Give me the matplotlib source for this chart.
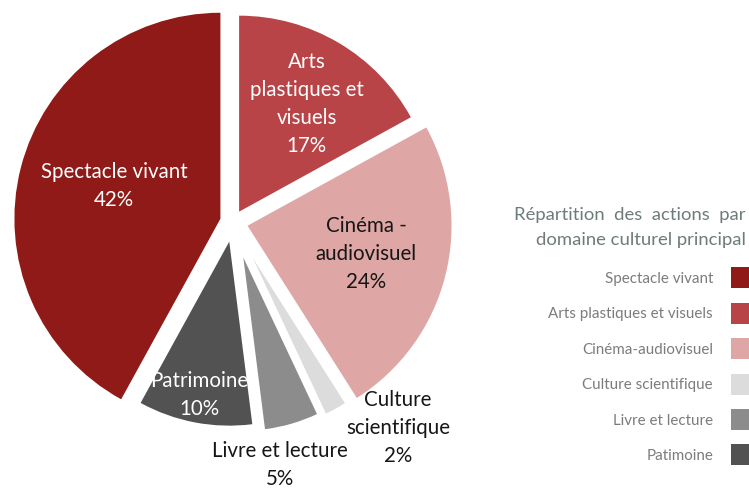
import numpy as np
import matplotlib
matplotlib.use("Agg")
import matplotlib.pyplot as plt

# ---- data ----
slice_names = ["Arts\nplastiques et\nvisuels", "Cinéma -\naudiovisuel", "Culture\nscientifique",
               "Livre et lecture", "Patrimoine", "Spectacle vivant"]
slice_values = [17, 24, 2, 5, 10, 42]
slice_colors = ["#b94448", "#dea6a4", "#dcdcdc", "#8c8c8c", "#525252", "#8f1a17"]
label_colors = ["white", "#161616", "#161616", "#161616", "white", "white"]

legend_labels = ["Spectacle vivant", "Arts plastiques et visuels", "Cinéma-audiovisuel",
                 "Culture scientifique", "Livre et lecture", "Patimoine"]
legend_colors = ["#8f1a17", "#b94448", "#dea6a4", "#dcdcdc", "#8c8c8c", "#525252"]
legend_title_1 = "Répartition  des  actions  par"
legend_title_2 = "domaine culturel principal"

# ---- layout ----
W, H = 749, 490
plt.rcParams['font.family'] = ['Lato', 'DejaVu Sans']
fig = plt.figure(figsize=(W / 100, H / 100), dpi=100)
ax = fig.add_axes([0, 0, 1, 1])

cx, cy, R = 233, 268, 200
explode_px = [12, 15, 41, 37, 20, 13]
radius_px = [196, 204, 172, 173, 184, 206]
wedges, _ = ax.pie(slice_values, colors=slice_colors, startangle=90, counterclock=False,
                   radius=R, center=(cx, cy), explode=explode_px,
                   frame=True, wedgeprops=dict(linewidth=0))
for w, r in zip(wedges, radius_px):
    w.set_radius(r)
ax.set_xlim(0, W)
ax.set_ylim(0, H)
ax.set_aspect('equal')
ax.axis('off')

# label placement (layout): distance from centre in px, angle tweak in degrees
label_r = [139, 137, 264, 248, 176, 124]
label_dtheta = [-1.5, 0.9, 9.9, -5.2, -0.2, -2.4]
total = sum(slice_values)
for w, name, v, col, rr, dt in zip(wedges, slice_names, slice_values, label_colors,
                                   label_r, label_dtheta):
    mid = np.deg2rad((w.theta1 + w.theta2) / 2 + dt)
    x = cx + rr * np.cos(mid)
    y = cy + rr * np.sin(mid)
    ax.text(x, y, f"{name}\n{round(100 * v / total)}%", ha='center', va='center',
            color=col, fontsize=14.8, linespacing=1.5)

# legend
ax.text(746, H - 215, legend_title_1, ha='right', va='center', color="#6e7b7b",
        fontsize=13.3)
ax.text(746, H - 240, legend_title_2, ha='right', va='center', color="#6e7b7b",
        fontsize=13.3)
leg_y0, leg_dy = H - 278, 35.4
for i, (lab, col) in enumerate(zip(legend_labels, legend_colors)):
    y = leg_y0 - i * leg_dy
    ax.add_patch(plt.Rectangle((731, y - 10.5), 20, 21, color=col, lw=0))
    ax.text(713, y - 1, lab, ha='right', va='center', color="#7c7c7c", fontsize=10.9)

fig.savefig("out.png", dpi=100)
